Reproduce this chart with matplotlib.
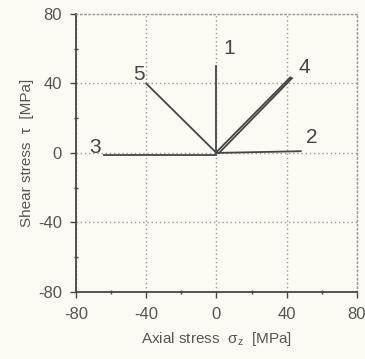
import matplotlib
matplotlib.use("Agg")
from matplotlib import pyplot as plt
from matplotlib.ticker import MultipleLocator

plt.rcParams['font.family'] = ['Liberation Sans', 'DejaVu Sans']
plt.rcParams['axes.unicode_minus'] = False

# loading paths in the axial/shear stress plane (MPa)
path_ids = ['1', '2', '3', '4', '5']
path_x = [[0, 0], [0, 48], [0, -64], [0, 42, 43, 1.5], [0, -40]]
path_y = [[0, 50], [0, 1], [-1, -1], [0.5, 43.5, 43, 0], [0, 40]]
label_x = [7, 54, -69, 50, -44]
label_y = [60, 9, 3, 49, 45]

ticks = [-80, -40, 0, 40, 80]
tick_labels = ['-80', '-40', '0', '40', '80']

ink = '#454545'
txt = '#555555'
bg = '#fbfbf3'

fig = plt.figure(figsize=(3.65, 3.59), dpi=100, facecolor=bg)
ax = fig.add_axes([0.208, 0.187, 0.77, 0.774], facecolor=bg)

for xs, ys in zip(path_x, path_y):
    ax.plot(xs, ys, '-', color=ink, linewidth=1.3, solid_joinstyle='miter')

for name, lx, ly in zip(path_ids, label_x, label_y):
    ax.text(lx, ly, name, fontsize=15, color=ink, ha='center', va='center')

ax.set_xlim(-80, 80)
ax.set_ylim(-80, 80)
ax.set_xticks(ticks)
ax.set_xticklabels(tick_labels)
ax.set_yticks(ticks)
ax.set_yticklabels(tick_labels)
ax.xaxis.set_minor_locator(MultipleLocator(20))
ax.yaxis.set_minor_locator(MultipleLocator(20))
ax.tick_params(which='major', direction='out', length=4, width=1, color=ink,
               labelsize=12, labelcolor=txt)
ax.tick_params(axis='x', which='major', pad=7)
ax.tick_params(axis='y', which='major', pad=6)
ax.tick_params(which='minor', direction='inout', length=3, width=1, color=ink)

ax.grid(True, which='major', linestyle=(0, (1, 2)), color='#9a9a9a', linewidth=1)
ax.set_axisbelow(True)

for side in ['left', 'bottom']:
    ax.spines[side].set_color(ink)
    ax.spines[side].set_linewidth(1.3)
for side in ['top', 'right']:
    ax.spines[side].set_linestyle((0, (1, 2)))
    ax.spines[side].set_color('#9a9a9a')
    ax.spines[side].set_linewidth(1)

ax.set_xlabel('Axial stress  σ$_\\mathregular{z}$  [MPa]', fontsize=11, color=txt, labelpad=6)
ax.set_ylabel('Shear stress  τ  [MPa]', fontsize=11, color=txt, labelpad=3)

fig.savefig('out.png', dpi=100, facecolor=bg)
